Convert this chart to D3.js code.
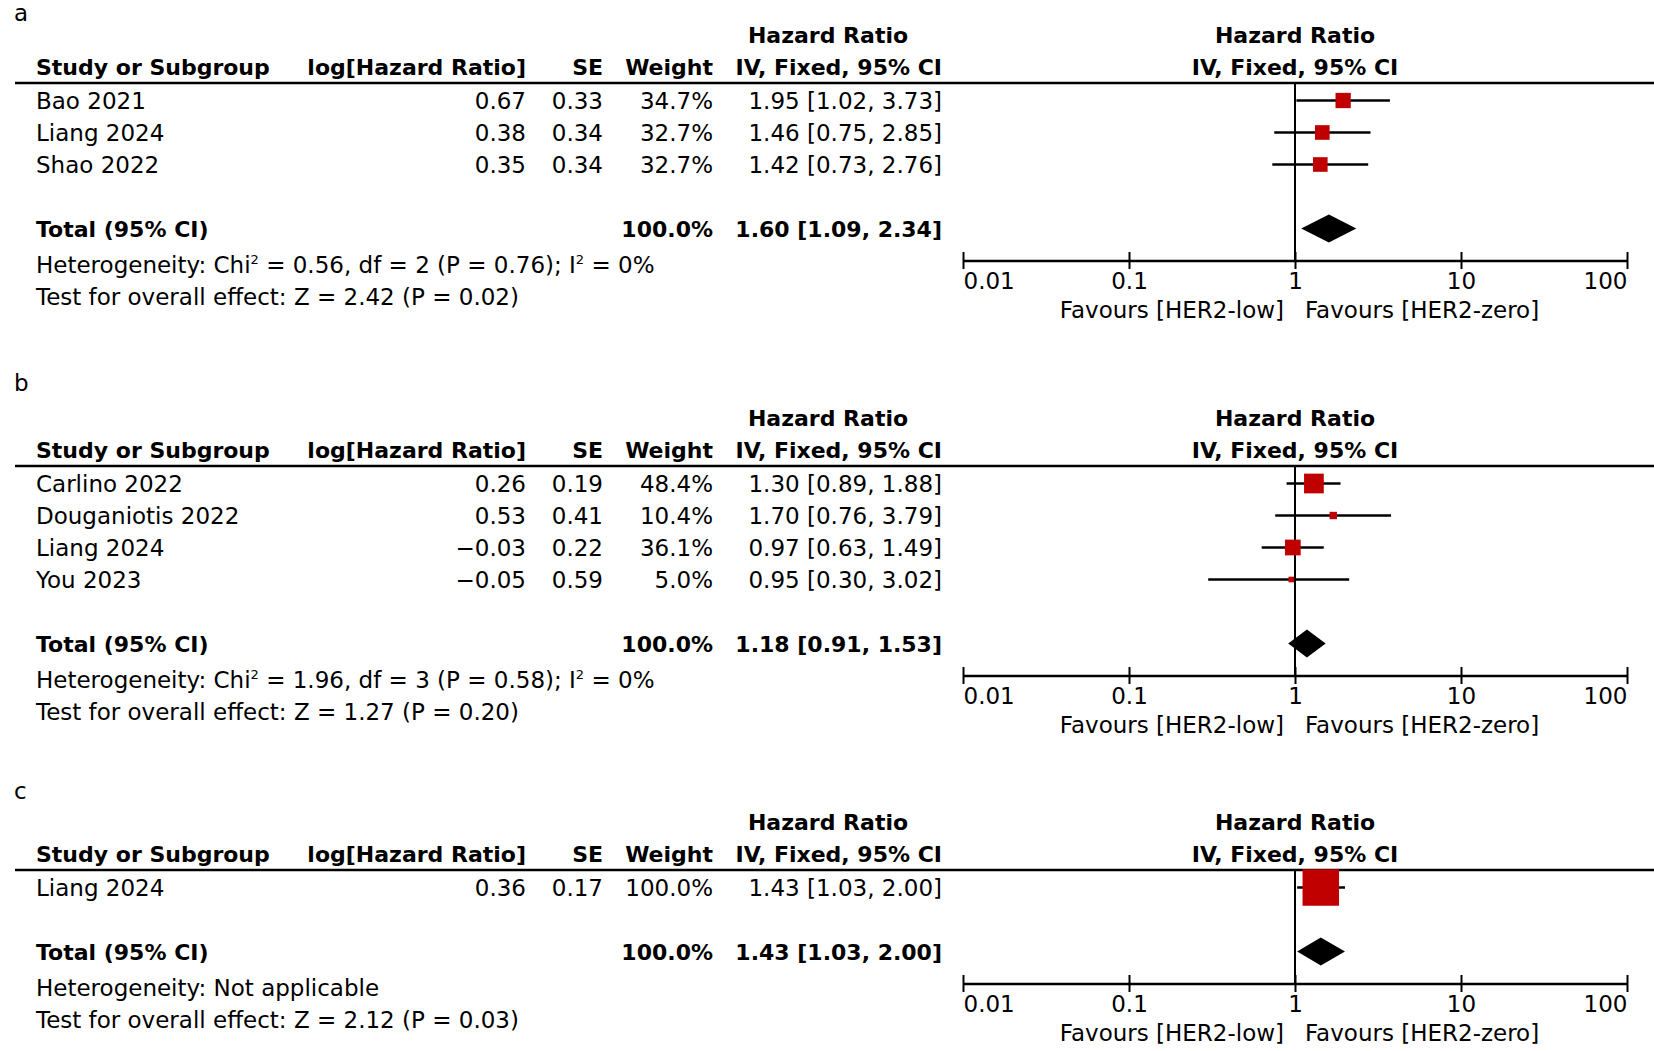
<!DOCTYPE html>
<html>
<head>
<meta charset="utf-8">
<script src="https://cdn.jsdelivr.net/npm/d3@7"></script>
<style>
  body { margin: 0; background: #fff; }
  text { font-family: "DejaVu Sans", sans-serif; fill: #000; }
  .reg { font-size: 23px; }
  .bold { font-size: 22px; font-weight: bold; }
</style>
</head>
<body>
<div id="forest"></div>
<script>
"use strict";

// ---- data: panel a ----
var a_study = ["Bao 2021", "Liang 2024", "Shao 2022"];
var a_logHR = ["0.67", "0.38", "0.35"];
var a_se = ["0.33", "0.34", "0.34"];
var a_weight = [34.7, 32.7, 32.7];
var a_ciText = ["1.95 [1.02, 3.73]", "1.46 [0.75, 2.85]", "1.42 [0.73, 2.76]"];
var a_hr = [1.95, 1.46, 1.42];
var a_lo = [1.02, 0.75, 0.73];
var a_hi = [3.73, 2.85, 2.76];
var a_total = [1.60, 1.09, 2.34];
var a_totalText = "1.60 [1.09, 2.34]";
var a_het = "Heterogeneity: Chi² = 0.56, df = 2 (P = 0.76); I² = 0%";
var a_test = "Test for overall effect: Z = 2.42 (P = 0.02)";

// ---- data: panel b ----
var b_study = ["Carlino 2022", "Douganiotis 2022", "Liang 2024", "You 2023"];
var b_logHR = ["0.26", "0.53", "\u22120.03", "\u22120.05"];
var b_se = ["0.19", "0.41", "0.22", "0.59"];
var b_weight = [48.4, 10.4, 36.1, 5.0];
var b_ciText = ["1.30 [0.89, 1.88]", "1.70 [0.76, 3.79]", "0.97 [0.63, 1.49]", "0.95 [0.30, 3.02]"];
var b_hr = [1.30, 1.70, 0.97, 0.95];
var b_lo = [0.89, 0.76, 0.63, 0.30];
var b_hi = [1.88, 3.79, 1.49, 2.12]; // last whisker as drawn in the figure
var b_total = [1.18, 0.91, 1.53];
var b_totalText = "1.18 [0.91, 1.53]";
var b_het = "Heterogeneity: Chi² = 1.96, df = 3 (P = 0.58); I² = 0%";
var b_test = "Test for overall effect: Z = 1.27 (P = 0.20)";

// ---- data: panel c ----
var c_study = ["Liang 2024"];
var c_logHR = ["0.36"];
var c_se = ["0.17"];
var c_weight = [100.0];
var c_ciText = ["1.43 [1.03, 2.00]"];
var c_hr = [1.43];
var c_lo = [1.03];
var c_hi = [2.00];
var c_total = [1.43, 1.03, 2.00];
var c_totalText = "1.43 [1.03, 2.00]";
var c_het = "Heterogeneity: Not applicable";
var c_test = "Test for overall effect: Z = 2.12 (P = 0.03)";

var axisTicks = [0.01, 0.1, 1, 10, 100];
var leftLabel = "Favours [HER2-low]";
var rightLabel = "Favours [HER2-zero]";

// ---- layout ----
var width = 1654, height = 1051;
var colStudy = 36, colLog = 526, colSE = 603, colW = 713, colCI = 942, hrHeadX = 828;
var rowStep = 32;

var x = d3.scaleLog().domain([0.01, 100]).range([963, 1627]);
var boxSize = d3.scaleLinear().domain([0, 100]).range([4, 36.5]);
var fmtW = function(d) { return d3.format(".1f")(d) + "%"; };

var svg = d3.select("#forest").append("svg")
    .attr("width", width)
    .attr("height", height);

function addText(g, cls, tx, ty, anchor, str) {
    var t = g.append("text")
        .attr("class", cls)
        .attr("x", tx)
        .attr("y", ty + 8.3)
        .attr("text-anchor", anchor);
    // superscript 2 for Chi² and I²
    var parts = str.split("²");
    parts.forEach(function(s, i) {
        if(i > 0) {
            t.append("tspan").attr("dy", -9).style("font-size", "13px").text("2");
            t.append("tspan").attr("dy", 9).text(s);
        } else {
            t.append("tspan").text(s);
        }
    });
    return t;
}

function drawPanel(p) {
    var g = svg.append("g");
    var top = p.top;
    var n = p.study.length;
    var rowY = function(i) { return top + 17.5 + i * rowStep; };
    var totalY = rowY(n + 1);
    var axisY = totalY + 32;
    var x1 = x(1);

    // panel letter
    g.append("text").attr("class", "reg").attr("x", 14).attr("y", p.labelY).text(p.label);

    // headers
    addText(g, "bold", hrHeadX, top - 48, "middle", "Hazard Ratio");
    addText(g, "bold", colCI, top - 16, "end", "IV, Fixed, 95% CI");
    addText(g, "bold", colStudy, top - 16, "start", "Study or Subgroup");
    addText(g, "bold", colLog, top - 16, "end", "log[Hazard Ratio]");
    addText(g, "bold", colSE, top - 16, "end", "SE");
    addText(g, "bold", colW, top - 16, "end", "Weight");
    addText(g, "bold", x1, top - 48, "middle", "Hazard Ratio");
    addText(g, "bold", x1, top - 16, "middle", "IV, Fixed, 95% CI");

    g.append("line")
        .attr("x1", 15).attr("x2", width)
        .attr("y1", top).attr("y2", top)
        .attr("stroke", "#000").attr("stroke-width", 2.5);

    // study rows
    p.study.forEach(function(s, i) {
        var y = rowY(i);
        addText(g, "reg", colStudy, y, "start", s);
        addText(g, "reg", colLog, y, "end", p.logHR[i]);
        addText(g, "reg", colSE, y, "end", p.se[i]);
        addText(g, "reg", colW, y, "end", fmtW(p.weight[i]));
        addText(g, "reg", colCI, y, "end", p.ciText[i]);
    });

    // zero line
    g.append("line")
        .attr("x1", x1).attr("x2", x1)
        .attr("y1", top).attr("y2", axisY)
        .attr("stroke", "#000").attr("stroke-width", 2);

    // whiskers
    g.selectAll("line.ci")
        .data(p.hr)
        .enter()
        .append("line")
        .attr("class", "ci")
        .attr("x1", function(d, i) { return x(p.lo[i]); })
        .attr("x2", function(d, i) { return x(p.hi[i]); })
        .attr("y1", function(d, i) { return rowY(i); })
        .attr("y2", function(d, i) { return rowY(i); })
        .attr("stroke", "#000").attr("stroke-width", 2.5);

    // boxes
    g.selectAll("rect.box")
        .data(p.hr)
        .enter()
        .append("rect")
        .attr("class", "box")
        .attr("x", function(d, i) { return x(d) - boxSize(p.weight[i]) / 2; })
        .attr("y", function(d, i) { return rowY(i) - boxSize(p.weight[i]) / 2; })
        .attr("width", function(d, i) { return boxSize(p.weight[i]); })
        .attr("height", function(d, i) { return boxSize(p.weight[i]); })
        .attr("fill", "#c00000");

    // total row
    addText(g, "bold", colStudy, totalY, "start", "Total (95% CI)");
    addText(g, "bold", colW, totalY, "end", fmtW(100));
    addText(g, "bold", colCI, totalY, "end", p.totalText);

    var t = p.total;
    g.append("path")
        .attr("d", "M" + x(t[1]) + "," + totalY +
                   "L" + x(t[0]) + "," + (totalY - 14) +
                   "L" + x(t[2]) + "," + totalY +
                   "L" + x(t[0]) + "," + (totalY + 14) + "Z")
        .attr("fill", "#000");

    addText(g, "reg", colStudy, totalY + 36, "start", p.het);
    addText(g, "reg", colStudy, totalY + 68, "start", p.test);

    // axis
    var axis = d3.axisBottom(x)
        .tickValues(axisTicks)
        .tickFormat(function(d) { return String(d); })
        .tickSizeInner(17)
        .tickSizeOuter(0)
        .tickPadding(0);
    var ag = g.append("g")
        .attr("transform", "translate(0," + axisY + ")")
        .call(axis);
    ag.select(".domain").attr("stroke", "#000").attr("stroke-width", 2.5);
    ag.selectAll(".tick line")
        .attr("y1", -8.5).attr("y2", 8.5)
        .attr("stroke", "#000").attr("stroke-width", 2);
    ag.selectAll(".tick text")
        .attr("class", "reg")
        .attr("y", 28).attr("dy", null)
        .style("font-family", "DejaVu Sans")
        .style("font-size", "23px")
        .attr("fill", "#000")
        .attr("text-anchor", function(d, i) {
            return i === 0 ? "start" : (i === axisTicks.length - 1 ? "end" : "middle");
        });

    g.append("text").attr("class", "reg")
        .attr("x", x1 - 11).attr("y", axisY + 57)
        .attr("text-anchor", "end").text(leftLabel);
    g.append("text").attr("class", "reg")
        .attr("x", x1 + 10).attr("y", axisY + 57)
        .attr("text-anchor", "start").text(rightLabel);
}

drawPanel({ label: "a", top: 83, labelY: 21,
    study: a_study, logHR: a_logHR, se: a_se, weight: a_weight, ciText: a_ciText,
    hr: a_hr, lo: a_lo, hi: a_hi, total: a_total, totalText: a_totalText,
    het: a_het, test: a_test });
drawPanel({ label: "b", top: 466, labelY: 391,
    study: b_study, logHR: b_logHR, se: b_se, weight: b_weight, ciText: b_ciText,
    hr: b_hr, lo: b_lo, hi: b_hi, total: b_total, totalText: b_totalText,
    het: b_het, test: b_test });
drawPanel({ label: "c", top: 870, labelY: 799,
    study: c_study, logHR: c_logHR, se: c_se, weight: c_weight, ciText: c_ciText,
    hr: c_hr, lo: c_lo, hi: c_hi, total: c_total, totalText: c_totalText,
    het: c_het, test: c_test });
</script>
</body>
</html>
